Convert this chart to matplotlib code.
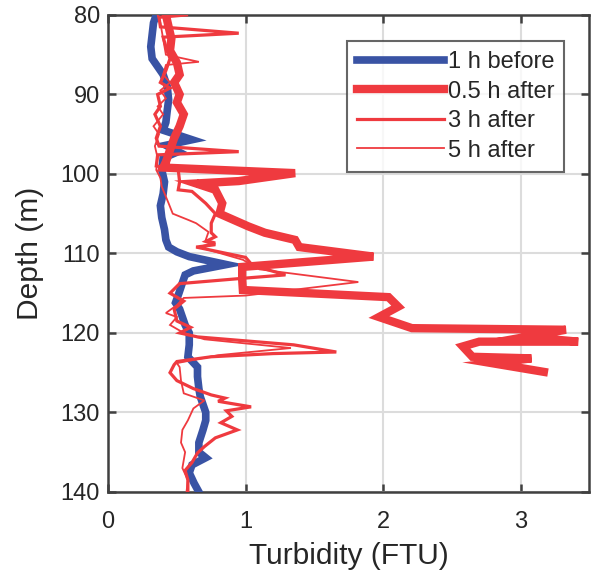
import matplotlib
matplotlib.use("Agg")
import matplotlib.pyplot as plt

plt.rcParams['font.family'] = ['Liberation Sans', 'DejaVu Sans']

# ---- data (turbidity FTU vs depth m) ----
before_1h_depth = [80, 81, 82.5, 84, 85.5, 86.5, 87.5, 89, 90.7, 92, 93.5, 94.5, 95.7, 96.4, 97.2, 98,
                   99.5, 101, 102.5, 104, 105.5, 107, 108.3, 109.2, 109.8, 110.4, 111.4, 112.2, 112.7,
                   113.7, 115, 116.2, 117, 118, 119, 120, 121.5, 123, 124.3, 125.5, 127, 128, 129, 130,
                   131, 132.2, 133.8, 135, 135.7, 136.6, 137.6, 138.9, 140]
before_1h_turb = [0.35, 0.33, 0.32, 0.31, 0.32, 0.36, 0.40, 0.43, 0.44, 0.43, 0.42, 0.40, 0.61, 0.42,
                  0.51, 0.40, 0.39, 0.41, 0.40, 0.38, 0.39, 0.41, 0.42, 0.44, 0.50, 0.59, 0.86, 0.62,
                  0.56, 0.54, 0.515, 0.49, 0.52, 0.54, 0.56, 0.59, 0.59, 0.58, 0.65, 0.65, 0.66, 0.67,
                  0.69, 0.71, 0.71, 0.69, 0.66, 0.66, 0.71, 0.61, 0.59, 0.625, 0.66]

after_05h_depth = [80, 81.5, 83, 84.5, 86, 87.5, 88.5, 90, 91, 92.5, 94, 95.5, 97, 98.5, 99.2, 99.9,
                   100.9, 101.2, 102, 103.7, 105, 106.6, 107.4, 108.3, 109.2, 110, 110.4, 111.7, 113.3,
                   114.6, 115.5, 116.7, 118, 119.4, 119.6, 120.5, 121.1, 121.1, 121.7, 123, 123.2,
                   123.8, 124.9]
after_05h_turb = [0.42, 0.44, 0.46, 0.45, 0.50, 0.52, 0.48, 0.52, 0.50, 0.55, 0.52, 0.48, 0.45, 0.42,
                  0.40, 1.36, 0.95, 0.64, 0.78, 0.83, 0.81, 1.02, 1.14, 1.36, 1.39, 1.75, 1.93, 0.975,
                  0.975, 0.98, 2.04, 2.11, 1.97, 2.21, 3.33, 3.04, 3.42, 2.70, 2.58, 2.65, 3.08, 2.79,
                  3.17]

after_3h_depth = [80, 80.3, 81.5, 82.3, 82.8, 84, 85.5, 87, 88.5, 89.2, 90, 91.5, 92.5, 94, 95.5, 96.5,
                  97.2, 97.6, 99, 99.5, 101, 102, 102.2, 103.7, 105, 106.2, 107.4, 107.9, 108.5,
                  108.9, 109.2, 110.5, 111.5, 112.7, 113.1, 113.8, 115, 116, 117, 118.5, 119.3, 120,
                  120.5, 121.5, 122.4, 122.6, 123, 123.6, 124, 125, 126, 127, 127.8, 128.2, 128.6,
                  129.3, 129.8, 130.5, 131.3, 132.2, 133.2, 134.3, 135.1, 136.3, 137.3, 138.5, 140]
after_3h_turb = [0.57, 0.37, 0.38, 0.95, 0.40, 0.42, 0.45, 0.42, 0.38, 0.45, 0.36, 0.38, 0.34, 0.38,
                 0.35, 0.37, 0.95, 0.36, 0.35, 0.51, 0.52, 0.51, 0.61, 0.71, 0.78, 0.75, 0.75, 0.78,
                 0.71, 0.78, 0.64, 1.0, 1.05, 1.29, 1.0, 0.52, 0.45, 0.55, 0.48, 0.50, 0.60, 0.52,
                 0.65, 1.35, 1.66, 1.2, 0.75, 0.50, 0.48, 0.45, 0.50, 0.62, 0.75, 0.85, 0.80, 1.04,
                 0.86, 0.90, 0.82, 0.94, 0.78, 0.70, 0.65, 0.61, 0.56, 0.58, 0.58]

after_5h_depth = [80, 81, 83, 85, 85.9, 86.3, 87.5, 88.5, 89.5, 90.5, 91.5, 92.5, 94, 95, 96.5, 98,
                  99.5, 100.5, 101.6, 103.7, 105, 105.8, 106.2, 107.3, 108.3, 108.6, 109.2, 110.8,
                  112, 113.6, 115.3, 115.6, 116.5, 117.5, 118, 119, 120, 120.8, 121.9, 122.8, 123.8,
                  124.3, 126, 127.6, 128.5, 129.5, 131, 132.2, 133.8, 135, 137, 138.5, 140]
after_5h_turb = [0.36, 0.38, 0.40, 0.42, 0.66, 0.42, 0.40, 0.45, 0.38, 0.42, 0.36, 0.40, 0.33, 0.37,
                 0.34, 0.36, 0.35, 0.38, 0.39, 0.44, 0.47, 0.585, 0.64, 0.73, 0.71, 0.78, 0.66, 0.98,
                 1.1, 1.82, 1.0, 0.55, 0.50, 0.42, 0.50, 0.45, 0.55, 0.70, 1.33, 0.80, 0.50, 0.52,
                 0.53, 0.55, 0.70, 0.62, 0.58, 0.54, 0.53, 0.56, 0.54, 0.58, 0.57]

labels = ['1 h before', '0.5 h after', '3 h after', '5 h after']
x_ticks = [0, 1, 2, 3]
y_ticks = [80, 90, 100, 110, 120, 130, 140]

BLUE = '#3953a4'
RED = '#ef3a3f'

fig = plt.figure(figsize=(5.91, 5.74), dpi=100)
ax = fig.add_axes([0.183, 0.143, 0.814, 0.831])

ax.plot(before_1h_turb, before_1h_depth, color=BLUE, lw=5.5, label=labels[0],
        solid_joinstyle='miter', zorder=3)
ax.plot(after_05h_turb, after_05h_depth, color=RED, lw=6.0, label=labels[1],
        solid_joinstyle='miter', zorder=3)
ax.plot(after_3h_turb, after_3h_depth, color=RED, lw=2.3, label=labels[2],
        solid_joinstyle='miter', zorder=3)
ax.plot(after_5h_turb, after_5h_depth, color=RED, lw=1.3, label=labels[3],
        solid_joinstyle='miter', zorder=3)

ax.set_xlim(0, 3.5)
ax.set_ylim(140, 80)
ax.set_xticks(x_ticks)
ax.set_yticks(y_ticks)
ax.grid(True, color='#dcdcdc', lw=1.5)
ax.set_axisbelow(True)

for s in ax.spines.values():
    s.set_color('#404040')
    s.set_linewidth(1.8)
ax.tick_params(direction='in', length=6, width=1.8, color='#404040',
               top=True, right=True, labelsize=17, labelcolor='#262626')
ax.tick_params(axis='x', pad=14)
ax.tick_params(axis='y', pad=6)

ax.set_xlabel('Turbidity (FTU)', fontsize=21.5, color='#262626', labelpad=6)
ax.set_ylabel('Depth (m)', fontsize=21.5, color='#262626', labelpad=12)

leg = ax.legend(loc='upper right', bbox_to_anchor=(0.948, 0.945), fontsize=17,
                frameon=True, fancybox=False, edgecolor='#404040', handlelength=3.7,
                handletextpad=0.15, labelspacing=0.32, borderpad=0.42, borderaxespad=0)
leg.get_frame().set_linewidth(1.5)
for t in leg.get_texts():
    t.set_color('#262626')

fig.savefig('out.png', dpi=100)
